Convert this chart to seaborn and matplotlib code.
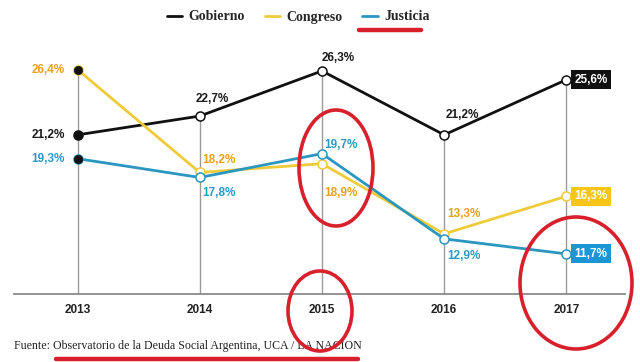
import matplotlib
matplotlib.use("Agg")
import matplotlib.pyplot as plt
from matplotlib.patches import Ellipse
from matplotlib.lines import Line2D
import seaborn as sns
import pandas as pd

years = [2013, 2014, 2015, 2016, 2017]
gobierno = [21.2, 22.7, 26.3, 21.2, 25.6]
congreso = [26.4, 18.2, 18.9, 13.3, 16.3]
justicia = [19.3, 17.8, 19.7, 12.9, 11.7]
series_names = ["Gobierno", "Congreso", "Justicia"]
tick_labels = ["2013", "2014", "2015", "2016", "2017"]
source = "Fuente: Observatorio de la Deuda Social Argentina, UCA / LA NACION"

line_colors = {"Gobierno": "#111111", "Congreso": "#efcb3a", "Justicia": "#2b96bf"}
text_colors = {"Gobierno": "#1a1a1a", "Congreso": "#e8a21c", "Justicia": "#2b9bc4"}
box_colors = {"Gobierno": "#111111", "Congreso": "#f5c518", "Justicia": "#1a96d4"}

df = pd.DataFrame({
    "year": years * 3,
    "value": gobierno + congreso + justicia,
    "serie": sum([[n] * len(years) for n in series_names], []),
})

sns.set_style("white")
plt.rcParams["font.family"] = ["Liberation Sans", "DejaVu Sans"]

fig = plt.figure(figsize=(6.4, 3.62), dpi=100)
ax = fig.add_axes([14 / 640, (362 - 294) / 362, (625 - 14) / 640, (294 - 40) / 362])
ax.set_xlim(2012.48, 2017.48)
ax.set_ylim(8.5, 28.77)

# vertical guide lines from baseline to highest value
maxv = df.groupby("year")["value"].max()
ax.vlines(maxv.index, 8.5, maxv.values, color="#9a9a9a", lw=1, zorder=1)

for name in series_names:
    sub = df[df.serie == name]
    sns.lineplot(data=sub, x="year", y="value", ax=ax, color=line_colors[name],
                 lw=2, marker="o", markersize=6.5, markerfacecolor="white",
                 markeredgecolor=line_colors[name], markeredgewidth=1.1,
                 zorder=3, legend=False)
first = df[df.year == years[0]]
sns.scatterplot(data=first, x="year", y="value", ax=ax, color="#111111", s=36,
                edgecolor="#111111", zorder=4, legend=False)

# labels
offsets = {
    "Gobierno": [(-9, 0, "right", "center"), (9, 12, "center", "center"), (0, 9, "left", "center"),
                 (13, 14, "center", "center"), None],
    "Congreso": [(-9, 0, "right", "center"), (2, 9, "left", "center"), (2, -21, "left", "center"),
                 (2, 14, "left", "center"), None],
    "Justicia": [(-9, 0, "right", "center"), (2, -11, "left", "center"), (2, 6, "left", "center"),
                 (2, -12, "left", "center"), None],
}
vals = {"Gobierno": gobierno, "Congreso": congreso, "Justicia": justicia}
for name in series_names:
    for i, (yr, v) in enumerate(zip(years, vals[name])):
        lab = f"{v:.1f}%".replace(".", ",")
        off = offsets[name][i]
        if off is None:
            ax.annotate(lab, (yr, v), xytext=(6, 0), textcoords="offset points",
                        ha="left", va="center", fontsize=8.5, fontweight="bold",
                        color="white", zorder=5,
                        bbox=dict(boxstyle="square,pad=0.3", fc=box_colors[name], ec="none"))
        else:
            dx, dy, ha, va = off
            ax.annotate(lab, (yr, v), xytext=(dx, dy), textcoords="offset points",
                        ha=ha, va=va, fontsize=8.5, fontweight="bold",
                        color=text_colors[name], zorder=5)

ax.set_xticks(years)
ax.set_xticklabels(tick_labels, fontsize=8.5, fontweight="bold", color="#222222")
ax.tick_params(axis="x", length=0, pad=7)
ax.set_yticks([])
ax.set_xlabel("")
ax.set_ylabel("")
for s in ["top", "right", "left"]:
    ax.spines[s].set_visible(False)
ax.spines["bottom"].set_color("#8a8a8a")
ax.spines["bottom"].set_linewidth(1.3)

handles = [Line2D([0], [0], color=line_colors[n], lw=2) for n in series_names]
fig.legend(handles, series_names, loc="center", bbox_to_anchor=(298 / 640, 1 - 17 / 362),
           ncol=3, frameon=False, handlelength=1.1, handletextpad=0.45, columnspacing=1.45,
           prop={"family": ["Liberation Serif"], "weight": "bold", "size": 10})

fig.text(14 / 640, 1 - 346 / 362, source, fontsize=8.6, family=["Liberation Serif"],
         color="#222222", va="center", ha="left")

# red hand-drawn annotations
red = "#d8202c"
fig.add_artist(Line2D([359 / 640, 421 / 640], [1 - 30 / 362] * 2, color=red, lw=3.2,
                      solid_capstyle="round", transform=fig.transFigure))
fig.add_artist(Line2D([56 / 640, 358 / 640], [1 - 359 / 362] * 2, color=red, lw=3.2,
                      solid_capstyle="round", transform=fig.transFigure))
for cx, cy, w, h in [(336, 168, 74, 116), (320, 311, 64, 80), (576, 283, 112, 132)]:
    fig.add_artist(Ellipse((cx / 640, 1 - cy / 362), w / 640, h / 362, fill=False,
                           ec=red, lw=2.6, transform=fig.transFigure, zorder=10))

fig.savefig("out.png", dpi=100)
